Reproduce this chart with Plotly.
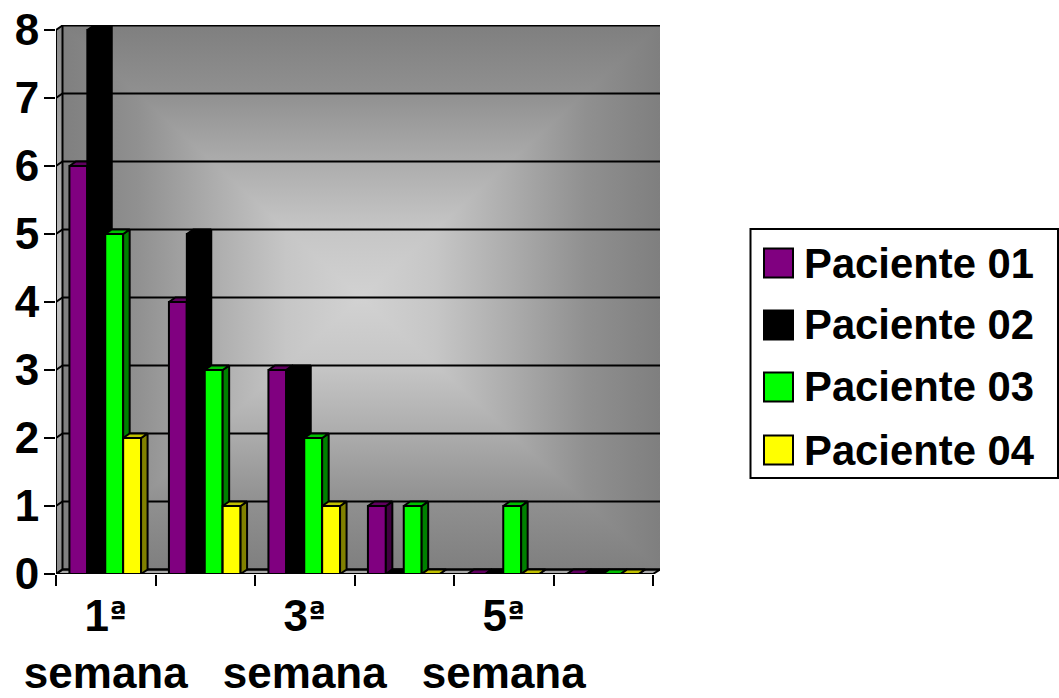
import base64
import plotly.graph_objects as go

CATEGORIES = ["1ª semana", "2ª semana", "3ª semana", "4ª semana", "5ª semana", "6ª semana"]
SERIES = ["Paciente 01", "Paciente 02", "Paciente 03", "Paciente 04"]
P01 = [6, 4, 3, 1, 0, 0]
P02 = [8, 5, 3, 0, 0, 0]
P03 = [5, 3, 2, 1, 1, 0]
P04 = [2, 1, 1, 0, 0, 0]
VALUES = [P01, P02, P03, P04]
FRONT = ["#800080", "#000000", "#00FF00", "#FFFF00"]
SIDE = ["#400040", "#000000", "#008000", "#808000"]
TOP = ["#600060", "#000000", "#00C000", "#C0C000"]
Y_TICKS = [0, 1, 2, 3, 4, 5, 6, 7, 8]
X_LABEL_POS = [0.5, 2.5, 4.5]
ORD = '<span style="font-family:\'DejaVu Sans\';font-size:32px;baseline-shift:6px">ª</span>'
X_LABELS = [f"1{ORD}<br>semana", f"3{ORD}<br>semana", f"5{ORD}<br>semana"]

W, H = 1059, 698
L, R, T, B = 56, 660, 25, 574
PX_X = 99.5
PX_Y = 68.0
X_MAX = (R - L) / PX_X
Y_MAX = (B - T) / PX_Y
DX = 6.5 / PX_X
DY = 4.5 / PX_Y
BAR_W = 0.18
BAR_START = 0.135
FONT = "Liberation Sans, Arial, sans-serif"
LINE = "#000000"

# wall gradient, rectangular "from centre" fill
pw, ph = R - L, B - T
wx = 6
cx, cy = (wx + pw) / 2, (ph - 4) / 2
STOPS = [(0, "#7f7f7f"), (0.25, "#909090"), (0.5, "#acacac"), (0.75, "#c6c6c6"), (1, "#d2d2d2")]


def grad(i, x1, y1, x2, y2, stops):
    s = "".join(f'<stop offset="{o}" stop-color="{c}"/>' for o, c in stops)
    return f'<linearGradient id="g{i}" gradientUnits="userSpaceOnUse" x1="{x1}" y1="{y1}" x2="{x2}" y2="{y2}">{s}</linearGradient>'


svg = (
    f'<svg xmlns="http://www.w3.org/2000/svg" width="{pw}" height="{ph}" viewBox="0 0 {pw} {ph}" preserveAspectRatio="none" shape-rendering="crispEdges"><defs>'
    + grad(0, 0, 0, 0, cy, STOPS) + grad(1, 0, ph - 4, 0, cy, STOPS)
    + grad(2, wx, 0, cx, 0, STOPS) + grad(3, pw, 0, cx, 0, STOPS)
    + '<linearGradient id="w" x1="0" y1="0" x2="0" y2="1"><stop offset="0" stop-color="#8a8a8a"/>'
      '<stop offset="0.5" stop-color="#c4c4c4"/><stop offset="1" stop-color="#8a8a8a"/></linearGradient></defs>'
    + f'<polygon fill="url(#w)" points="0,5 {wx},0 {wx},{ph-4} 0,{ph}"/>'
    + f'<polygon fill="url(#g0)" points="{wx},0 {pw},0 {cx},{cy}"/>'
    + f'<polygon fill="url(#g1)" points="{wx},{ph-4} {pw},{ph-4} {cx},{cy}"/>'
    + f'<polygon fill="url(#g2)" points="{wx},0 {wx},{ph-4} {cx},{cy}"/>'
    + f'<polygon fill="url(#g3)" points="{pw},0 {pw},{ph-4} {cx},{cy}"/>'
    + '</svg>'
)
bg_src = "data:image/svg+xml;base64," + base64.b64encode(svg.encode()).decode()

fig = go.Figure()

# floor
fig.add_trace(go.Scatter(
    x=[0, DX, X_MAX, 6, 0], y=[0, DY, DY, 0, 0], mode="lines", fill="toself",
    fillcolor="#a6a6a6", line=dict(color=LINE, width=2), hoverinfo="skip", showlegend=False))

# back-wall gridlines and their returns on the side wall
gx, gy = [], []
for v in Y_TICKS:
    gx += [0, DX, X_MAX, None]
    gy += [v, v + DY, v + DY, None]
gx += [0, 0, None, DX, DX]
gy += [0, Y_TICKS[-1], None, DY, Y_TICKS[-1] + DY]
fig.add_trace(go.Scatter(x=gx, y=gy, mode="lines", line=dict(color=LINE, width=2),
                         cliponaxis=False, hoverinfo="skip", showlegend=False))

# one overlaid axis pair per series, so each series sits over the previous one
for k, vals in enumerate(VALUES):
    xs = "x" + str(k + 2)
    ys = "y" + str(k + 2)
    off = BAR_START + k * BAR_W
    fig.add_trace(go.Bar(
        x=list(range(len(vals))), y=vals, offset=off, width=BAR_W, name=SERIES[k],
        xaxis=xs, yaxis=ys, marker=dict(color=FRONT[k], line=dict(color=LINE, width=2)),
        customdata=CATEGORIES, showlegend=False, cliponaxis=False))
    sx, sy, tx, ty = [], [], [], []
    for i, v in enumerate(vals):
        x0 = i + off
        x1 = x0 + BAR_W
        sx += [x1, x1 + DX, x1 + DX, x1, x1, None]
        sy += [0, DY, v + DY, v, 0, None]
        tx += [x0, x0 + DX, x1 + DX, x1, x0, None]
        ty += [v, v + DY, v + DY, v, v, None]
    fig.add_trace(go.Scatter(x=sx, y=sy, mode="lines", fill="toself", fillcolor=SIDE[k], xaxis=xs, yaxis=ys,
                             line=dict(color=LINE, width=2), hoverinfo="skip", showlegend=False, cliponaxis=False))
    fig.add_trace(go.Scatter(x=tx, y=ty, mode="lines", fill="toself", fillcolor=TOP[k], xaxis=xs, yaxis=ys,
                             line=dict(color=LINE, width=2), hoverinfo="skip", showlegend=False, cliponaxis=False))

axis_font = dict(family=FONT, size=44, color="#000000", weight=700)
layout = dict(
    template="none",
    width=W, height=H, margin=dict(l=L, r=W - R, t=T, b=H - B, pad=0, autoexpand=False),
    paper_bgcolor="#ffffff", plot_bgcolor="rgba(0,0,0,0)", barmode="overlay", hovermode="closest",
    font=dict(family=FONT, color="#000000"), showlegend=False,
    xaxis=dict(range=[0, X_MAX], tickmode="array", tickvals=list(range(len(CATEGORIES) + 1)),
               ticktext=[""] * (len(CATEGORIES) + 1), ticks="outside", ticklen=11, tickwidth=2, tickcolor=LINE,
               showgrid=False, zeroline=False, showline=False, automargin=False),
    yaxis=dict(range=[0, Y_MAX], tickmode="array", tickvals=Y_TICKS, ticks="outside", ticklen=11, tickwidth=2,
               tickcolor=LINE, tickfont=axis_font, showgrid=False, zeroline=False, showline=False,
               ticklabelstandoff=-4, automargin=False),
    images=[dict(source=bg_src, xref="paper", yref="paper", x=0, y=1, sizex=1, sizey=1,
                 sizing="stretch", layer="below")],
)
for k in range(len(VALUES)):
    n = str(k + 2)
    layout["xaxis" + n] = dict(range=[0, X_MAX], overlaying="x", anchor="y", side="bottom", visible=False,
                               automargin=False)
    layout["yaxis" + n] = dict(range=[0, Y_MAX], overlaying="y", anchor="x", visible=False, automargin=False)
layout["xaxis2"].update(visible=True, showgrid=False, zeroline=False, showline=False, tickmode="array",
                        tickvals=X_LABEL_POS, ticktext=X_LABELS, ticks="", tickfont=axis_font,
                        ticklabelstandoff=12)

# legend box, drawn to keep the large square swatches of the original
plot_w, plot_h = R - L, B - T


def px(x):
    return (x - L) / plot_w


def py(y):
    return (B - y) / plot_h


shapes = [dict(type="rect", xref="paper", yref="paper", x0=px(750.5), x1=px(1058), y0=py(229), y1=py(478),
               line=dict(color=LINE, width=2), fillcolor="#ffffff")]
annotations = []
rows = [263, 325, 387, 450]
for k, name in enumerate(SERIES):
    c = rows[k]
    shapes.append(dict(type="rect", xref="paper", yref="paper", x0=px(764), x1=px(793), y0=py(c - 14.5), y1=py(c + 14.5),
                       line=dict(color=LINE, width=2), fillcolor=FRONT[k]))
    annotations.append(dict(text=name, xref="paper", yref="paper", x=px(803), y=py(c), xanchor="left", yanchor="middle",
                            showarrow=False, borderpad=0, font=dict(family=FONT, size=41.8, color="#000000", weight=700)))
layout["shapes"] = shapes
layout["annotations"] = annotations

fig.update_layout(**layout)
fig.write_html("out.html", config=dict(displayModeBar=False),
               post_script="document.body.style.margin='0';document.body.style.overflow='hidden';")
